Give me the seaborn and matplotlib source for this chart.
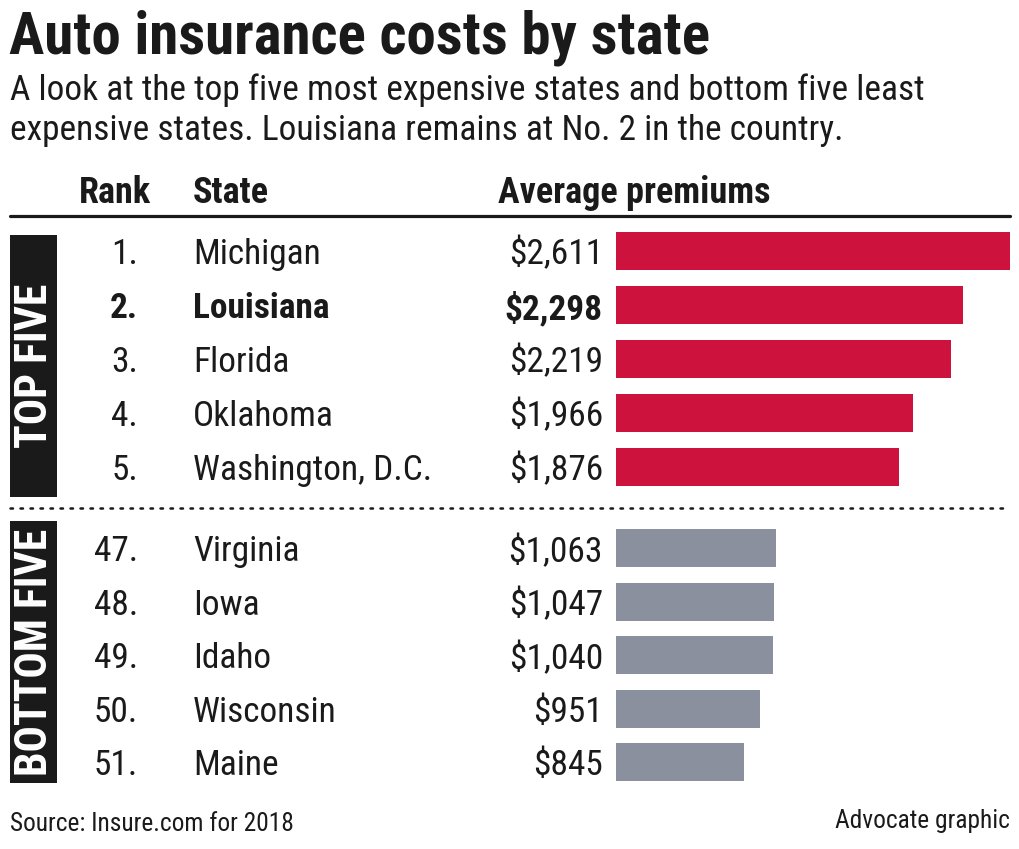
import matplotlib
matplotlib.use("Agg")
import matplotlib.pyplot as plt
import matplotlib.transforms as mtransforms
from matplotlib.patches import Rectangle
from matplotlib.lines import Line2D
import seaborn as sns
import pandas as pd

# ---- data ----
top_ranks = ["1.", "2.", "3.", "4.", "5."]
top_states = ["Michigan", "Louisiana", "Florida", "Oklahoma", "Washington, D.C."]
top_premiums = [2611, 2298, 2219, 1966, 1876]

bottom_ranks = ["47.", "48.", "49.", "50.", "51."]
bottom_states = ["Virginia", "Iowa", "Idaho", "Wisconsin", "Maine"]
bottom_premiums = [1063, 1047, 1040, 951, 845]

highlight_state = "Louisiana"

RED = "#cd133d"
GRAY = "#8a909e"
INK = "#1a1a1a"
FONTS = ["Roboto Condensed", "Liberation Sans Narrow", "DejaVu Sans"]

sns.set_theme(style="white")
plt.rcParams["font.family"] = FONTS

W, H = 1020, 849
fig = plt.figure(figsize=(W / 100, H / 100), dpi=100)
fig.patch.set_facecolor("white")


def fx(px):
    return px / W


def fy(py):
    return 1 - py / H


# ---- titles ----
fig.text(fx(9), fy(53), "Auto insurance costs by state", fontsize=42.5, fontweight="bold",
         color=INK, ha="left", va="baseline")
fig.text(fx(10), fy(100), "A look at the top five most expensive states and bottom five least",
         fontsize=25.5, color=INK, ha="left", va="baseline")
fig.text(fx(10), fy(140), "expensive states. Louisiana remains at No. 2 in the country.",
         fontsize=25.5, color=INK, ha="left", va="baseline")

# header
hdr = dict(fontsize=26, fontweight="bold", color=INK, va="baseline")
fig.text(fx(151), fy(203), "Rank", ha="right", **hdr)
fig.text(fx(193), fy(203), "State", ha="left", **hdr)
fig.text(fx(498), fy(203), "Average premiums", ha="left", **hdr)
fig.add_artist(Line2D([fx(10), fx(1010)], [fy(215.5), fy(215.5)], transform=fig.transFigure,
                      color=INK, lw=2.3))

# dotted separator
fig.add_artist(Line2D([fx(10), fx(1010)], [fy(508), fy(508)], transform=fig.transFigure,
                      color=INK, lw=1.8, linestyle=(0, (1, 3)), dash_capstyle="round"))

# side labels
for (y0, y1, label) in [(235, 497, "TOP FIVE"), (521, 783, "BOTTOM FIVE")]:
    fig.add_artist(Rectangle((fx(10), fy(y1)), fx(57) - fx(10), fy(y0) - fy(y1),
                             transform=fig.transFigure, facecolor=INK, edgecolor="none"))
    fig.text(fx(35), fy((y0 + y1) / 2), label, rotation=90, color="white", fontsize=31.5,
             fontweight="bold", ha="center", va="center")


def draw_group(top_px, bottom_px, ranks, states, values, color):
    ax = fig.add_axes([fx(616), fy(bottom_px), fx(1010) - fx(616), fy(top_px) - fy(bottom_px)])
    df = pd.DataFrame({"state": states, "premium": values})
    sns.barplot(data=df, x="premium", y="state", orient="h", color=color, width=0.71,
                saturation=1, ax=ax, edgecolor="none")
    ax.set_xlim(0, max(top_premiums))
    ax.set_ylim(len(states) - 0.5, -0.5)
    ax.axis("off")
    tr = mtransforms.blended_transform_factory(fig.transFigure, ax.transData)
    for i, (r, s, v) in enumerate(zip(ranks, states, values)):
        bold = "bold" if s == highlight_state else "normal"
        kw = dict(fontsize=25.5, color=INK, va="center_baseline", transform=tr, fontweight=bold)
        ax.text(fx(138), i, r, ha="right", **kw)
        ax.text(fx(193), i, s, ha="left", **kw)
        ax.text(fx(603), i, f"${v:,}", ha="right", **kw)
    return ax


draw_group(224, 494, top_ranks, top_states, top_premiums, RED)
draw_group(521.25, 789.25, bottom_ranks, bottom_states, bottom_premiums, GRAY)

# footer
fig.text(fx(10), fy(831), "Source: Insure.com for 2018", fontsize=18.3, color=INK,
         ha="left", va="baseline")
fig.text(fx(1010), fy(828), "Advocate graphic", fontsize=18.3, color=INK,
         ha="right", va="baseline")

fig.savefig("out.png", dpi=100, facecolor="white")
